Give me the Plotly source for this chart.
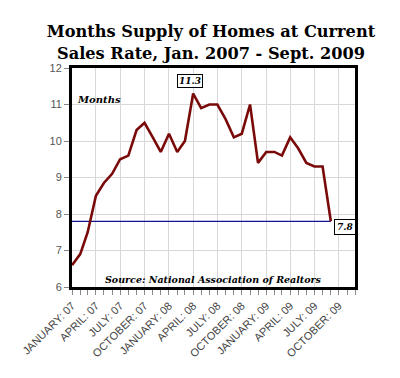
import plotly.graph_objects as go

months = [f"{y}-{m:02d}-01" for y in (2007, 2008, 2009) for m in range(1, 13)][:33]
supply = [6.6, 6.9, 7.5, 8.5, 8.85, 9.1, 9.5, 9.6, 10.3, 10.5, 10.1, 9.7,
          10.2, 9.7, 10.0, 11.3, 10.9, 11.0, 11.0, 10.6, 10.1, 10.2, 11.0, 9.4,
          9.7, 9.7, 9.6, 10.1, 9.8, 9.4, 9.3, 9.3, 7.8]
tick_vals = ["2007-01-01", "2007-04-01", "2007-07-01", "2007-10-01",
             "2008-01-01", "2008-04-01", "2008-07-01", "2008-10-01",
             "2009-01-01", "2009-04-01", "2009-07-01", "2009-10-01"]
tick_labels = ["JANUARY: 07", "APRIL: 07", "JULY: 07", "OCTOBER: 07",
               "JANUARY: 08", "APRIL: 08", "JULY: 08", "OCTOBER: 08",
               "JANUARY: 09", "APRIL: 09", "JULY: 09", "OCTOBER: 09"]

peak_i = supply.index(max(supply))
serif = "DejaVu Serif"

fig = go.Figure()
fig.add_trace(go.Scatter(x=[months[0], months[-1]], y=[supply[-1], supply[-1]],
                         mode="lines", line=dict(color="#12128f", width=1.2),
                         hoverinfo="skip"))
fig.add_trace(go.Scatter(x=months, y=supply, mode="lines",
                         line=dict(color="#7a0a0a", width=2.6)))

fig.add_annotation(x=months[peak_i], y=supply[peak_i], text=f"<b><i>{supply[peak_i]}</i></b>",
                   showarrow=False, yanchor="bottom", yshift=6, xshift=-3,
                   font=dict(family=serif, size=9, color="black"),
                   bgcolor="white", bordercolor="black", borderwidth=1, borderpad=1)
fig.add_annotation(x=months[-1], y=supply[-1], text=f"<b><i>{supply[-1]}</i></b>",
                   showarrow=False, xanchor="left", yanchor="middle", xshift=3, yshift=-6,
                   font=dict(family=serif, size=9, color="black"),
                   bgcolor="white", bordercolor="black", borderwidth=1, borderpad=2)
fig.add_annotation(xref="paper", yref="paper", x=0, y=0.858, xshift=3,
                   xanchor="left", yanchor="middle", showarrow=False,
                   text="<b><i>Months</i></b>",
                   font=dict(family=serif, size=10, color="black"))
fig.add_annotation(xref="paper", yref="paper", x=0.5, y=0.032,
                   xanchor="center", yanchor="middle", showarrow=False,
                   text="<b><i>Source: National Association of Realtors</i></b>",
                   font=dict(family=serif, size=9.5, color="black"))

fig.update_layout(
    width=400, height=378,
    margin=dict(l=58, r=53, t=60, b=99),
    paper_bgcolor="white", plot_bgcolor="white",
    showlegend=False,
    title=dict(text="<b>Months Supply of Homes at Current<br>Sales Rate, Jan. 2007 - Sept. 2009</b>",
               x=0.5075, xanchor="center", y=0.922, yanchor="middle",
               font=dict(family=serif, size=16.2, color="black")),
)
fig.update_xaxes(type="date", range=["2007-01-01", "2009-12-01"],
                 tickvals=tick_vals, ticktext=tick_labels, tickangle=-45,
                 tickfont=dict(family="Liberation Sans", size=11, color="#444"),
                 ticks="outside", ticklen=5, tickcolor="#888",
                 showgrid=True, gridcolor="#d8d8d8", gridwidth=1,
                 minor=dict(dtick="M1", ticks="outside", ticklen=5, tickcolor="#888", showgrid=False),
                 showline=True, linecolor="black", linewidth=3, mirror=True,
                 zeroline=False)
fig.update_yaxes(range=[6, 12], dtick=1,
                 tickfont=dict(family="Liberation Sans", size=11, color="#555"),
                 ticks="outside", ticklen=5, tickcolor="#888",
                 showgrid=True, gridcolor="#d8d8d8", gridwidth=1,
                 showline=True, linecolor="black", linewidth=3, mirror=True,
                 zeroline=False)

fig.write_html("out.html")
